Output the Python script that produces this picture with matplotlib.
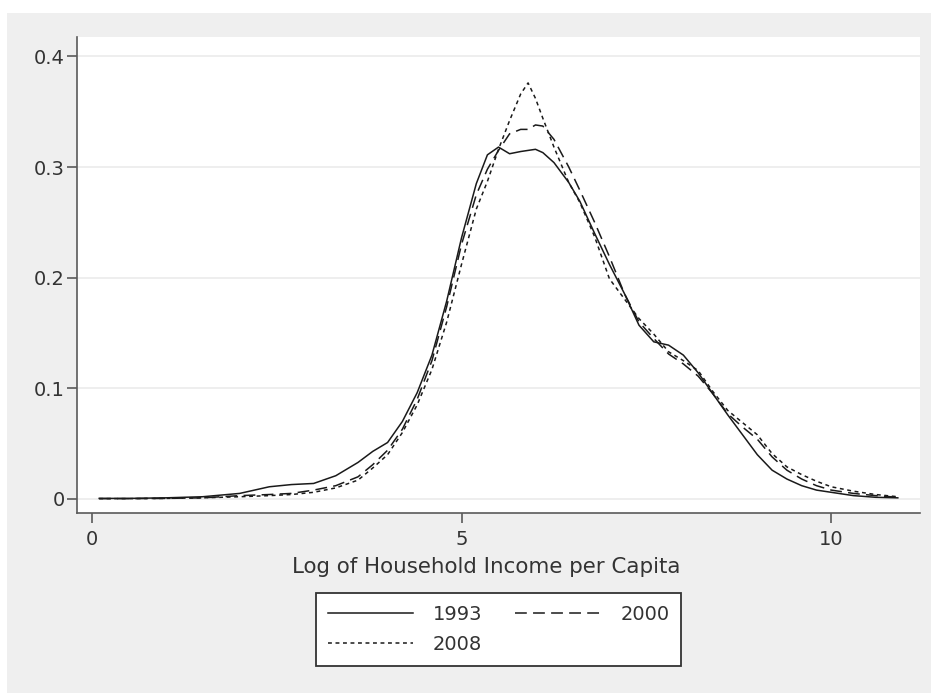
import matplotlib
matplotlib.use("Agg")
import matplotlib.pyplot as plt
from matplotlib.patches import Rectangle

# log income grid and kernel density values
log_income = [0.1, 0.5, 1.0, 1.5, 2.0, 2.4, 2.7, 3.0, 3.3, 3.6, 3.8, 4.0, 4.2, 4.4,
              4.6, 4.8, 5.0, 5.2, 5.35, 5.5, 5.65, 5.8, 5.9, 6.0, 6.1, 6.25, 6.45,
              6.6, 6.8, 7.0, 7.2, 7.4, 7.6, 7.8, 8.0, 8.2, 8.4, 8.6, 8.8, 9.0, 9.2,
              9.4, 9.6, 9.8, 10.0, 10.3, 10.6, 10.9]

dens_1993 = [0.0005, 0.0005, 0.001, 0.002, 0.005, 0.011, 0.013, 0.014, 0.021, 0.033,
             0.043, 0.051, 0.070, 0.096, 0.130, 0.179, 0.236, 0.285, 0.311, 0.318,
             0.312, 0.314, 0.315, 0.316, 0.313, 0.304, 0.286, 0.269, 0.240, 0.212,
             0.186, 0.157, 0.142, 0.139, 0.130, 0.114, 0.095, 0.076, 0.058, 0.040,
             0.026, 0.018, 0.012, 0.008, 0.006, 0.003, 0.0015, 0.001]

dens_2000 = [0.0003, 0.0003, 0.0005, 0.001, 0.003, 0.004, 0.005, 0.008, 0.012, 0.020,
             0.031, 0.044, 0.063, 0.090, 0.125, 0.174, 0.230, 0.275, 0.298, 0.315,
             0.330, 0.334, 0.334, 0.338, 0.337, 0.325, 0.300, 0.279, 0.250, 0.219,
             0.186, 0.160, 0.145, 0.131, 0.122, 0.111, 0.095, 0.077, 0.065, 0.054,
             0.038, 0.026, 0.018, 0.012, 0.008, 0.005, 0.003, 0.0015]

dens_2008 = [0.0003, 0.0003, 0.0005, 0.001, 0.002, 0.003, 0.004, 0.006, 0.010, 0.017,
             0.028, 0.040, 0.060, 0.085, 0.117, 0.160, 0.212, 0.262, 0.287, 0.316,
             0.342, 0.366, 0.376, 0.362, 0.344, 0.318, 0.286, 0.268, 0.237, 0.199,
             0.181, 0.163, 0.149, 0.133, 0.125, 0.116, 0.097, 0.080, 0.069, 0.058,
             0.041, 0.029, 0.022, 0.016, 0.011, 0.007, 0.004, 0.002]

years = ["1993", "2000", "2008"]
x_ticks = [0, 5, 10]
y_ticks = [0, 0.1, 0.2, 0.3, 0.4]
y_ticklabels = ["0", "0.1", "0.2", "0.3", "0.4"]

plt.rcParams["font.family"] = ["DejaVu Sans"]
plt.rcParams["lines.scale_dashes"] = False

fig = plt.figure(figsize=(9.31, 6.93), dpi=100, facecolor="white")
# stata-like gray graph region
fig.patches.append(Rectangle((7 / 931, 0), 1, 1 - 13 / 693, transform=fig.transFigure,
                             facecolor="#efefef", edgecolor="none", zorder=-5))

ax = fig.add_axes([77 / 931, 1 - 513 / 693, (920 - 77) / 931, (513 - 37) / 693])
ax.set_facecolor("white")

l1, = ax.plot(log_income, dens_1993, color="#1a1a1a", lw=1.1, ls="-")
l2, = ax.plot(log_income, dens_2000, color="#1a1a1a", lw=1.1, ls=(0, (8.5, 4.5)))
l3, = ax.plot(log_income, dens_2008, color="#1a1a1a", lw=1.1, ls=(0, (2.8, 2.6)))

ax.set_xlim(-0.2, 11.2)
ax.set_ylim(-0.0127, 0.4175)
ax.set_xticks(x_ticks)
ax.set_yticks(y_ticks)
ax.set_yticklabels(y_ticklabels)
ax.grid(axis="y", color="#ebebeb", lw=1.2)
ax.set_axisbelow(True)

for side in ["top", "right"]:
    ax.spines[side].set_visible(False)
for side in ["left", "bottom"]:
    ax.spines[side].set_color("#5a5a5a")
    ax.spines[side].set_linewidth(1.2)
ax.tick_params(axis="both", direction="out", length=7, width=1.2, color="#5a5a5a",
               labelsize=14, labelcolor="#333333")
ax.tick_params(axis="y", pad=2)
ax.tick_params(axis="x", pad=5)

ax.set_xlabel("Log of Household Income per Capita", fontsize=15.4, color="#333333",
              labelpad=6)
ax.xaxis.label.set_x(0.485)

leg = fig.legend([l1, l3, l2], [years[0], years[2], years[1]], ncol=2,
                 loc="center", bbox_to_anchor=(498.5 / 931, 1 - 629.5 / 693),
                 fontsize=14, handlelength=4.4, handletextpad=1.0, columnspacing=1.7,
                 labelspacing=0.55, borderpad=0.6, fancybox=False, framealpha=1,
                 edgecolor="#333333", facecolor="white")
leg.get_frame().set_linewidth(1.3)
for t in leg.get_texts():
    t.set_color("#333333")

fig.savefig("out.png", dpi=100, facecolor=fig.get_facecolor())
